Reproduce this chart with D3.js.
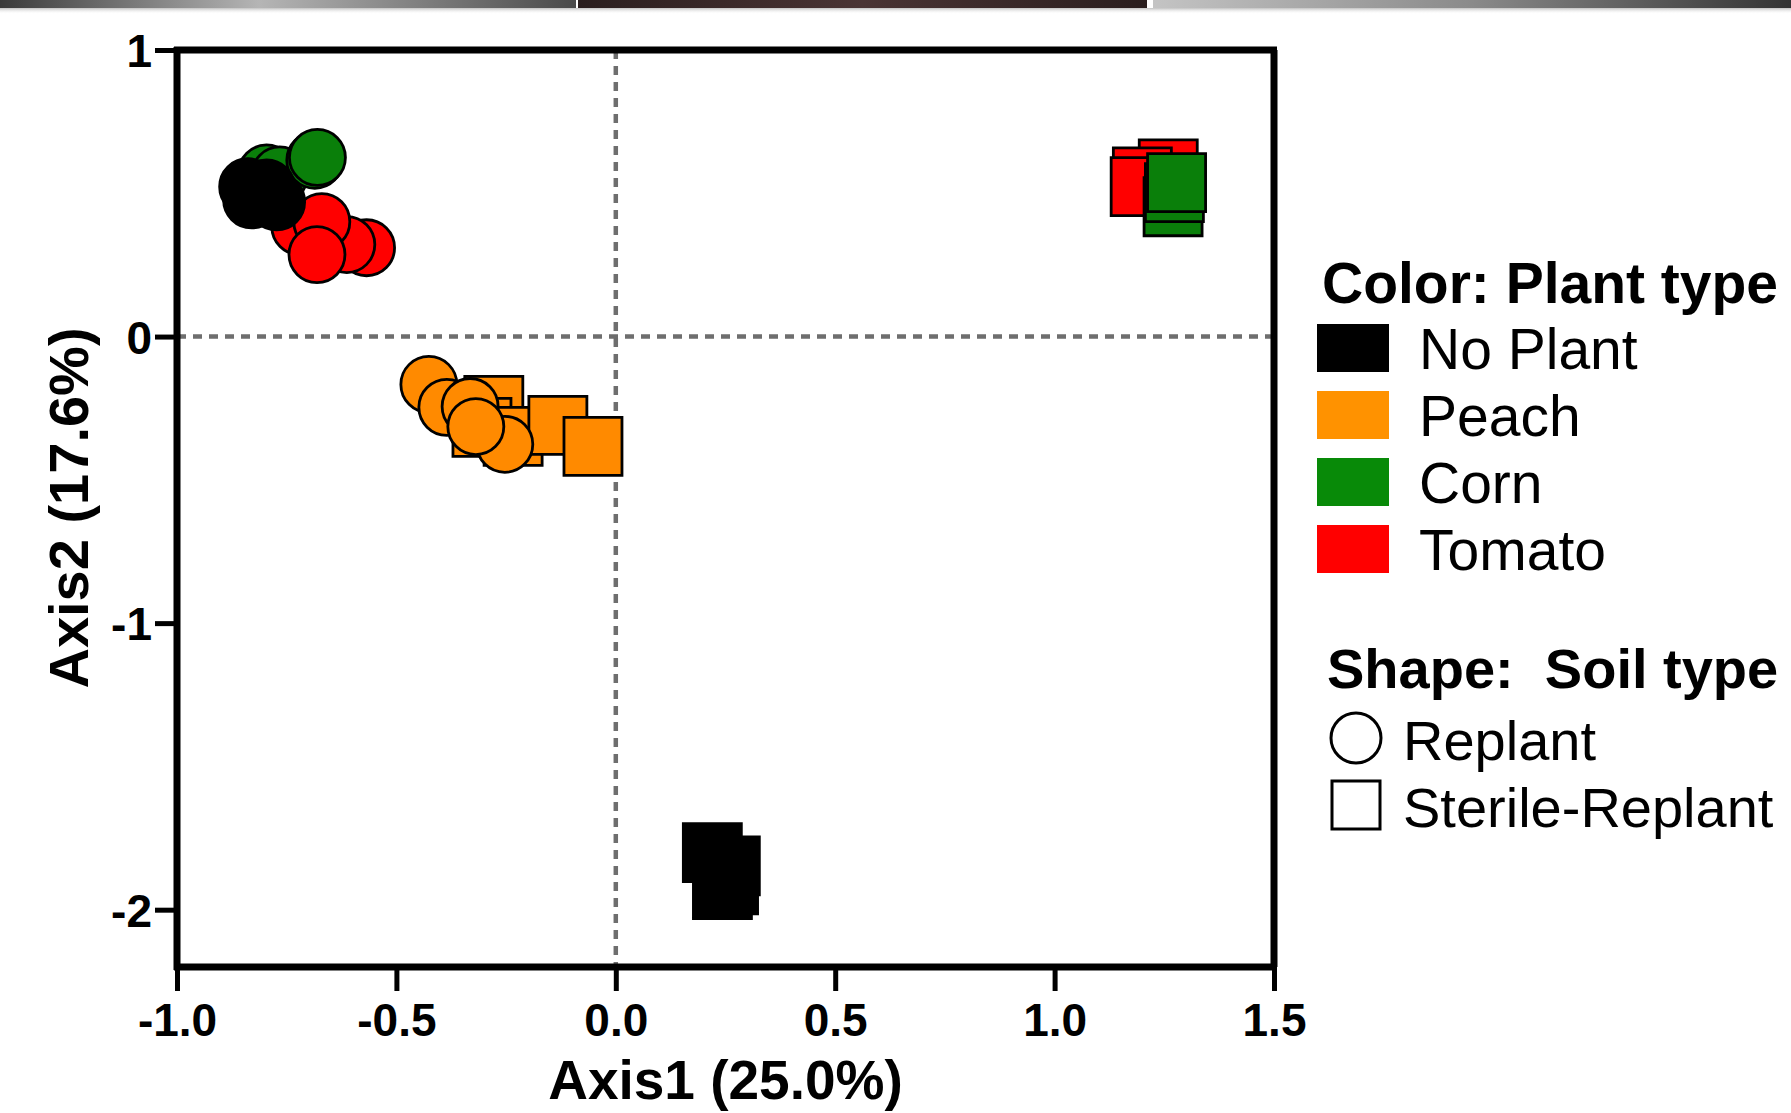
<!DOCTYPE html>
<html>
<head>
<meta charset="utf-8">
<script src="https://cdn.jsdelivr.net/npm/d3@7"></script>
<style>
  body { margin: 0; background: #fff; }
  svg { display: block; font-family: "Liberation Sans", Arial, sans-serif; }
</style>
</head>
<body>
<svg id="chart" width="1791" height="1113"></svg>
<script>
// legend categories
var plantTypes = ["No Plant", "Peach", "Corn", "Tomato"];
var soilTypes = ["Replant", "Sterile-Replant"];

// tick values
var xTicks = [-1.0, -0.5, 0.0, 0.5, 1.0, 1.5];
var yTicks = [1, 0, -1, -2];

// PCoA coordinates [Axis1, Axis2]
var peachSterile = [[-0.278, -0.240], [-0.305, -0.317], [-0.234, -0.348], [-0.132, -0.310], [-0.052, -0.383]];
var peachReplant = [[-0.426, -0.167], [-0.385, -0.247], [-0.332, -0.244], [-0.253, -0.376], [-0.319, -0.314]];
var cornReplant = [[-0.796, 0.571], [-0.766, 0.564], [-0.686, 0.615], [-0.680, 0.625]];
var tomatoReplant = [[-0.568, 0.310], [-0.613, 0.321], [-0.720, 0.383], [-0.670, 0.401], [-0.681, 0.286]];
var noPlantReplant = [[-0.839, 0.523], [-0.796, 0.519], [-0.830, 0.477], [-0.773, 0.470]];
var tomatoSterile = [[1.259, 0.585], [1.200, 0.557], [1.195, 0.523]];
var cornSterile = [[1.270, 0.453], [1.273, 0.502], [1.278, 0.537]];
var noPlantSterile = [[0.220, -1.801], [0.261, -1.847], [0.243, -1.930], [0.257, -1.913]];

// draw order follows the overlaps seen in the figure
var groups = [
  {plant: "Peach", soil: "Sterile-Replant", pts: peachSterile},
  {plant: "Peach", soil: "Replant", pts: peachReplant},
  {plant: "Corn", soil: "Replant", pts: cornReplant},
  {plant: "Tomato", soil: "Replant", pts: tomatoReplant},
  {plant: "No Plant", soil: "Replant", pts: noPlantReplant},
  {plant: "Tomato", soil: "Sterile-Replant", pts: tomatoSterile},
  {plant: "Corn", soil: "Sterile-Replant", pts: cornSterile},
  {plant: "No Plant", soil: "Sterile-Replant", pts: noPlantSterile}
];

var points = [];
groups.forEach(function(g)
{
  g.pts.forEach(function(p)
  {
    points.push({plant: g.plant, soil: g.soil, x: p[0], y: p[1]});
  });
});

var svg = d3.select("#chart");

var plotLeft = 177, plotRight = 1274, plotTop = 50, plotBottom = 967;

var x = d3.scaleLinear().domain([-1.0, 1.5]).range([plotLeft, plotRight]);
var y = d3.scaleLinear().domain([-2.2, 1]).range([plotBottom, plotTop]);

var color = d3.scaleOrdinal()
  .domain(plantTypes)
  .range(["#000000", "#ff8a00", "#0a7f0a", "#ff0000"]);

var swatchColor = d3.scaleOrdinal()
  .domain(plantTypes)
  .range(["#000000", "#ff9200", "#088a08", "#ff0000"]);

// window bar at the very top of the screenshot
var defs = svg.append("defs");
function grad(id, stops)
{
  var g = defs.append("linearGradient").attr("id", id)
    .attr("x1", "0%").attr("x2", "100%").attr("y1", "0%").attr("y2", "0%");
  stops.forEach(function(s)
  {
    g.append("stop").attr("offset", s[0]).attr("stop-color", s[1]);
  });
}
grad("barL", [["0%", "#3a3a3a"], ["45%", "#b5b5b5"], ["100%", "#4a4a4a"]]);
grad("barM", [["0%", "#2a1e1e"], ["50%", "#4a3434"], ["100%", "#2a1e1e"]]);
grad("barR", [["0%", "#c4c4c4"], ["50%", "#8a8a8a"], ["100%", "#333333"]]);
var shade = defs.append("linearGradient").attr("id", "shade")
  .attr("x1", "0%").attr("x2", "0%").attr("y1", "0%").attr("y2", "100%");
shade.append("stop").attr("offset", "0%").attr("stop-color", "#999").attr("stop-opacity", 0.6);
shade.append("stop").attr("offset", "100%").attr("stop-color", "#fff").attr("stop-opacity", 0);

svg.append("rect").attr("x", 0).attr("y", 0).attr("width", 576).attr("height", 8).attr("fill", "url(#barL)");
svg.append("rect").attr("x", 578).attr("y", 0).attr("width", 569).attr("height", 8).attr("fill", "url(#barM)");
svg.append("rect").attr("x", 1153).attr("y", 0).attr("width", 638).attr("height", 8).attr("fill", "url(#barR)");
svg.append("rect").attr("x", 0).attr("y", 8).attr("width", 1791).attr("height", 6).attr("fill", "url(#shade)");

// zero reference lines
svg.append("line")
  .attr("x1", x(0)).attr("x2", x(0))
  .attr("y1", plotTop).attr("y2", plotBottom)
  .attr("stroke", "#6e6e6e").attr("stroke-width", 4.5)
  .attr("stroke-dasharray", "9,7");

svg.append("line")
  .attr("x1", plotLeft).attr("x2", plotRight)
  .attr("y1", y(0)).attr("y2", y(0))
  .attr("stroke", "#6e6e6e").attr("stroke-width", 4.5)
  .attr("stroke-dasharray", "9,7");

// points
var symbolCircle = d3.symbol().type(d3.symbolCircle).size(Math.PI * 28 * 28);
var symbolSquare = d3.symbol().type(d3.symbolSquare).size(58 * 58);

svg.append("g").selectAll("path")
  .data(points)
  .enter().append("path")
  .attr("transform", function(d) { return "translate(" + x(d.x) + "," + y(d.y) + ")"; })
  .attr("d", function(d) { return d.soil === "Replant" ? symbolCircle() : symbolSquare(); })
  .attr("fill", function(d) { return color(d.plant); })
  .attr("stroke", "#000")
  .attr("stroke-width", 2.8);

// frame (top and right)
svg.append("line")
  .attr("x1", plotLeft - 3).attr("x2", plotRight + 3)
  .attr("y1", plotTop).attr("y2", plotTop)
  .attr("stroke", "#000").attr("stroke-width", 7);
svg.append("line")
  .attr("x1", plotRight).attr("x2", plotRight)
  .attr("y1", plotTop).attr("y2", plotBottom)
  .attr("stroke", "#000").attr("stroke-width", 7);

// axes
var xAxis = d3.axisBottom(x)
  .tickValues(xTicks)
  .tickSize(24)
  .tickSizeOuter(0)
  .tickFormat(function(d) { return d.toFixed(1); });

var gx = svg.append("g")
  .attr("transform", "translate(0," + plotBottom + ")")
  .call(xAxis);

var yAxis = d3.axisLeft(y)
  .tickValues(yTicks)
  .tickSize(22)
  .tickSizeOuter(0)
  .tickFormat(function(d) { return String(d); });

var gy = svg.append("g")
  .attr("transform", "translate(" + plotLeft + ",0)")
  .call(yAxis);

[gx, gy].forEach(function(g)
{
  g.select(".domain").attr("stroke", "#000").attr("stroke-width", 7);
  g.selectAll(".tick line").attr("stroke", "#000").attr("stroke-width", 5);
  g.selectAll(".tick text")
    .attr("fill", "#000")
    .style("font-size", "46px")
    .style("font-weight", "bold");
});

// extend the spines a bit past the corner like in the figure
gx.select(".domain").attr("d", "M" + (plotLeft - 3) + ",0H" + (plotRight + 3));
gy.select(".domain").attr("d", "M0," + (plotTop - 3) + "V" + (plotBottom + 3));

gx.selectAll(".tick text").attr("y", 36).attr("dy", "0.71em");
gy.selectAll(".tick text").attr("x", -25).attr("dy", "0.36em");

// axis titles
svg.append("text")
  .attr("x", (plotLeft + plotRight) / 2)
  .attr("y", 1099)
  .attr("text-anchor", "middle")
  .style("font-size", "55px")
  .style("font-weight", "bold")
  .text("Axis1 (25.0%)");

svg.append("text")
  .attr("transform", "translate(88,508) rotate(-90)")
  .attr("text-anchor", "middle")
  .style("font-size", "56px")
  .style("font-weight", "bold")
  .text("Axis2 (17.6%)");

// legend: colour
var legend = svg.append("g");

legend.append("text")
  .attr("x", 1322).attr("y", 303)
  .style("font-size", "57px")
  .style("font-weight", "bold")
  .text("Color: Plant type");

var items = legend.selectAll(".item")
  .data(plantTypes)
  .enter().append("g")
  .attr("class", "item")
  .attr("transform", function(d, i) { return "translate(0," + (i * 67) + ")"; });

items.append("rect")
  .attr("x", 1317).attr("y", 324)
  .attr("width", 72).attr("height", 48)
  .attr("fill", function(d) { return swatchColor(d); });

items.append("text")
  .attr("x", 1419).attr("y", 369)
  .style("font-size", "57px")
  .text(function(d) { return d; });

// legend: shape
legend.append("text")
  .attr("x", 1327).attr("y", 688)
  .style("font-size", "56px")
  .style("font-weight", "bold")
  .style("white-space", "pre")
  .text("Shape:  Soil type");

var shapes = legend.selectAll(".shape")
  .data(soilTypes)
  .enter().append("g")
  .attr("class", "shape")
  .attr("transform", function(d, i) { return "translate(0," + (i * 67) + ")"; });

shapes.append("path")
  .attr("transform", "translate(1356,738)")
  .attr("d", function(d)
  {
    return d === "Replant"
      ? d3.symbol().type(d3.symbolCircle).size(Math.PI * 25 * 25)()
      : d3.symbol().type(d3.symbolSquare).size(48 * 48)();
  })
  .attr("fill", "#fff")
  .attr("stroke", "#000")
  .attr("stroke-width", 3);

shapes.append("text")
  .attr("x", 1403).attr("y", 760)
  .style("font-size", "56px")
  .text(function(d) { return d; });
</script>
</body>
</html>
